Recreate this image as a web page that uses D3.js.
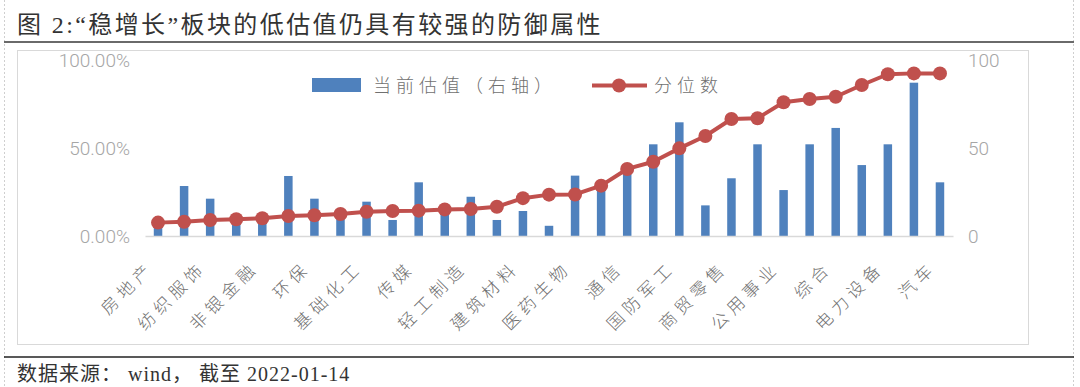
<!DOCTYPE html>
<html>
<head>
<meta charset="utf-8">
<script src="https://cdn.jsdelivr.net/npm/d3@7"></script>
<style>
  body { margin: 0; background: #fff; }
  svg { display: block; }
</style>
</head>
<body>
<div id="fig"></div>
<script>
// only every other sector name is printed on the axis in the source chart
var categories = ["房地产", "", "纺织服饰", "", "非银金融", "", "环保", "", "基础化工", "", "传媒", "",
  "轻工制造", "", "建筑材料", "", "医药生物", "", "通信", "", "国防军工", "", "商贸零售", "",
  "公用事业", "", "综合", "", "电力设备", "", "汽车"];
// 当前估值 (right axis)
var valuation = [8, 28.4, 21.2, 9, 9, 34.1, 21.2, 11, 19.5, 9.1, 30.5, 14, 22.3, 9.1, 14.2,
  5.8, 34.3, 27, 37, 52.1, 64.6, 17.4, 32.8, 52.1, 26.1, 52.1, 61.4, 40.3, 52.1, 87.1, 30.5];
// 分位数 (left axis, %)
var quantile = [7.6, 8.1, 9.1, 9.5, 10.1, 11.4, 11.8, 12.5, 13.8, 14.2, 14.4, 15.1, 15.3, 16.6, 21.5,
  23.5, 23.6, 28.6, 38.1, 42.2, 49.8, 56.8, 66.5, 66.9, 76.0, 77.8, 79.1, 85.8, 91.9, 92.4, 92.4];
var leftTicks = [0, 50, 100];
var rightTicks = [0, 50, 100];

var W = 1080, H = 387;
var blue = "#4f81bd", red = "#c0504d";
var cjk = "'Noto Sans CJK SC', sans-serif";
var serif = "'Liberation Serif', 'Noto Sans CJK SC', serif";

var svg = d3.select("#fig").append("svg")
    .attr("width", W)
    .attr("height", H);

// page frame: faint dotted sides, heading rule, footer rule
svg.append("line").attr("x1", 4.5).attr("x2", 4.5).attr("y1", 0).attr("y2", H)
  .attr("stroke", "#cfcfcf").attr("stroke-dasharray", "2,2");
svg.append("line").attr("x1", 1073.5).attr("x2", 1073.5).attr("y1", 0).attr("y2", H)
  .attr("stroke", "#cfcfcf").attr("stroke-dasharray", "2,2");
svg.append("line").attr("x1", 4).attr("x2", 1074).attr("y1", 42).attr("y2", 42)
  .attr("stroke", "#6a6a6a").attr("stroke-width", 2);
svg.append("line").attr("x1", 4).attr("x2", 1074).attr("y1", 357).attr("y2", 357)
  .attr("stroke", "#222").attr("stroke-width", 1.5);

svg.append("text")
  .attr("x", 17).attr("y", 33)
  .attr("font-family", serif).attr("font-size", 24).attr("letter-spacing", 2.4).attr("fill", "#333")
  .text("图 2:“稳增长”板块的低估值仍具有较强的防御属性");

svg.append("text")
  .attr("x", 17).attr("y", 381)
  .attr("font-family", serif).attr("font-size", 20).attr("letter-spacing", 1).attr("fill", "#333")
  .attr("xml:space", "preserve")
  .text("数据来源： wind， 截至 2022-01-14");

// chart box
svg.append("rect")
  .attr("x", 17.5).attr("y", 50.5).attr("width", 1011).attr("height", 294)
  .attr("fill", "none").attr("stroke", "#d9d9d9");

var x = d3.scaleBand()
    .domain(d3.range(categories.length))
    .range([145, 953])
    .padding(0);
var yL = d3.scaleLinear().domain([0, 100]).range([236, 60]);
var yR = d3.scaleLinear().domain([0, 100]).range([236, 60]);

var g = svg.append("g");

// axes (no lines, just labels)
var axL = g.append("g")
  .attr("transform", "translate(130,0)")
  .call(d3.axisLeft(yL).tickValues(leftTicks).tickSize(0).tickPadding(0)
    .tickFormat(function(d) { return d3.format(".2f")(d) + "%"; }));
var axR = g.append("g")
  .attr("transform", "translate(968,0)")
  .call(d3.axisRight(yR).tickValues(rightTicks).tickSize(0).tickPadding(0));
[axL, axR].forEach(function(a) {
  a.select(".domain").remove();
  a.selectAll("text")
    .attr("font-family", "Roboto, sans-serif")
    .attr("font-weight", 300)
    .attr("font-size", 19)
    .attr("fill", "#a6a6a6");
});

// bars
var bw = 8.5;
g.selectAll("rect.bar")
  .data(valuation)
  .enter().append("rect")
    .attr("class", "bar")
    .attr("x", function(d, i) { return x(i) + x.bandwidth() / 2 - bw / 2; })
    .attr("y", function(d) { return yR(d); })
    .attr("width", bw)
    .attr("height", function(d) { return yR(0) - yR(d); })
    .attr("fill", blue);

// category axis
var axX = g.append("g")
  .attr("transform", "translate(0,236)")
  .call(d3.axisBottom(x).tickSize(0).tickFormat(function(i) { return categories[i]; }));
axX.select(".domain").attr("stroke", "#d9d9d9").attr("stroke-width", 1.5);
axX.selectAll(".tick text")
  .attr("font-family", cjk)
  .attr("font-weight", 300)
  .attr("font-size", 17)
  .attr("letter-spacing", 5)
  .attr("fill", "#707070")
  .attr("text-anchor", "end")
  .attr("dy", 0)
  .attr("y", 0)
  .attr("transform", "translate(-3,33) rotate(-45)");

// quantile line
var line = d3.line()
  .x(function(d, i) { return x(i) + x.bandwidth() / 2; })
  .y(function(d) { return yL(d); });
g.append("path")
  .datum(quantile)
  .attr("d", line)
  .attr("fill", "none")
  .attr("stroke", red)
  .attr("stroke-width", 4)
  .attr("stroke-linejoin", "round");
g.selectAll("circle.pt")
  .data(quantile)
  .enter().append("circle")
    .attr("class", "pt")
    .attr("cx", function(d, i) { return x(i) + x.bandwidth() / 2; })
    .attr("cy", function(d) { return yL(d); })
    .attr("r", 7)
    .attr("fill", red);

// legend
var lg = svg.append("g").attr("font-family", cjk).attr("font-weight", 300)
  .attr("font-size", 18).attr("fill", "#707070").attr("letter-spacing", 5);
lg.append("rect").attr("x", 312).attr("y", 78).attr("width", 49).attr("height", 14).attr("fill", blue);
lg.append("text").attr("x", 373).attr("y", 92).text("当前估值（右轴）");
lg.append("line").attr("x1", 592).attr("x2", 647).attr("y1", 85.5).attr("y2", 85.5)
  .attr("stroke", red).attr("stroke-width", 4);
lg.append("circle").attr("cx", 619).attr("cy", 85.5).attr("r", 7).attr("fill", red);
lg.append("text").attr("x", 654).attr("y", 92).text("分位数");
</script>
</body>
</html>
